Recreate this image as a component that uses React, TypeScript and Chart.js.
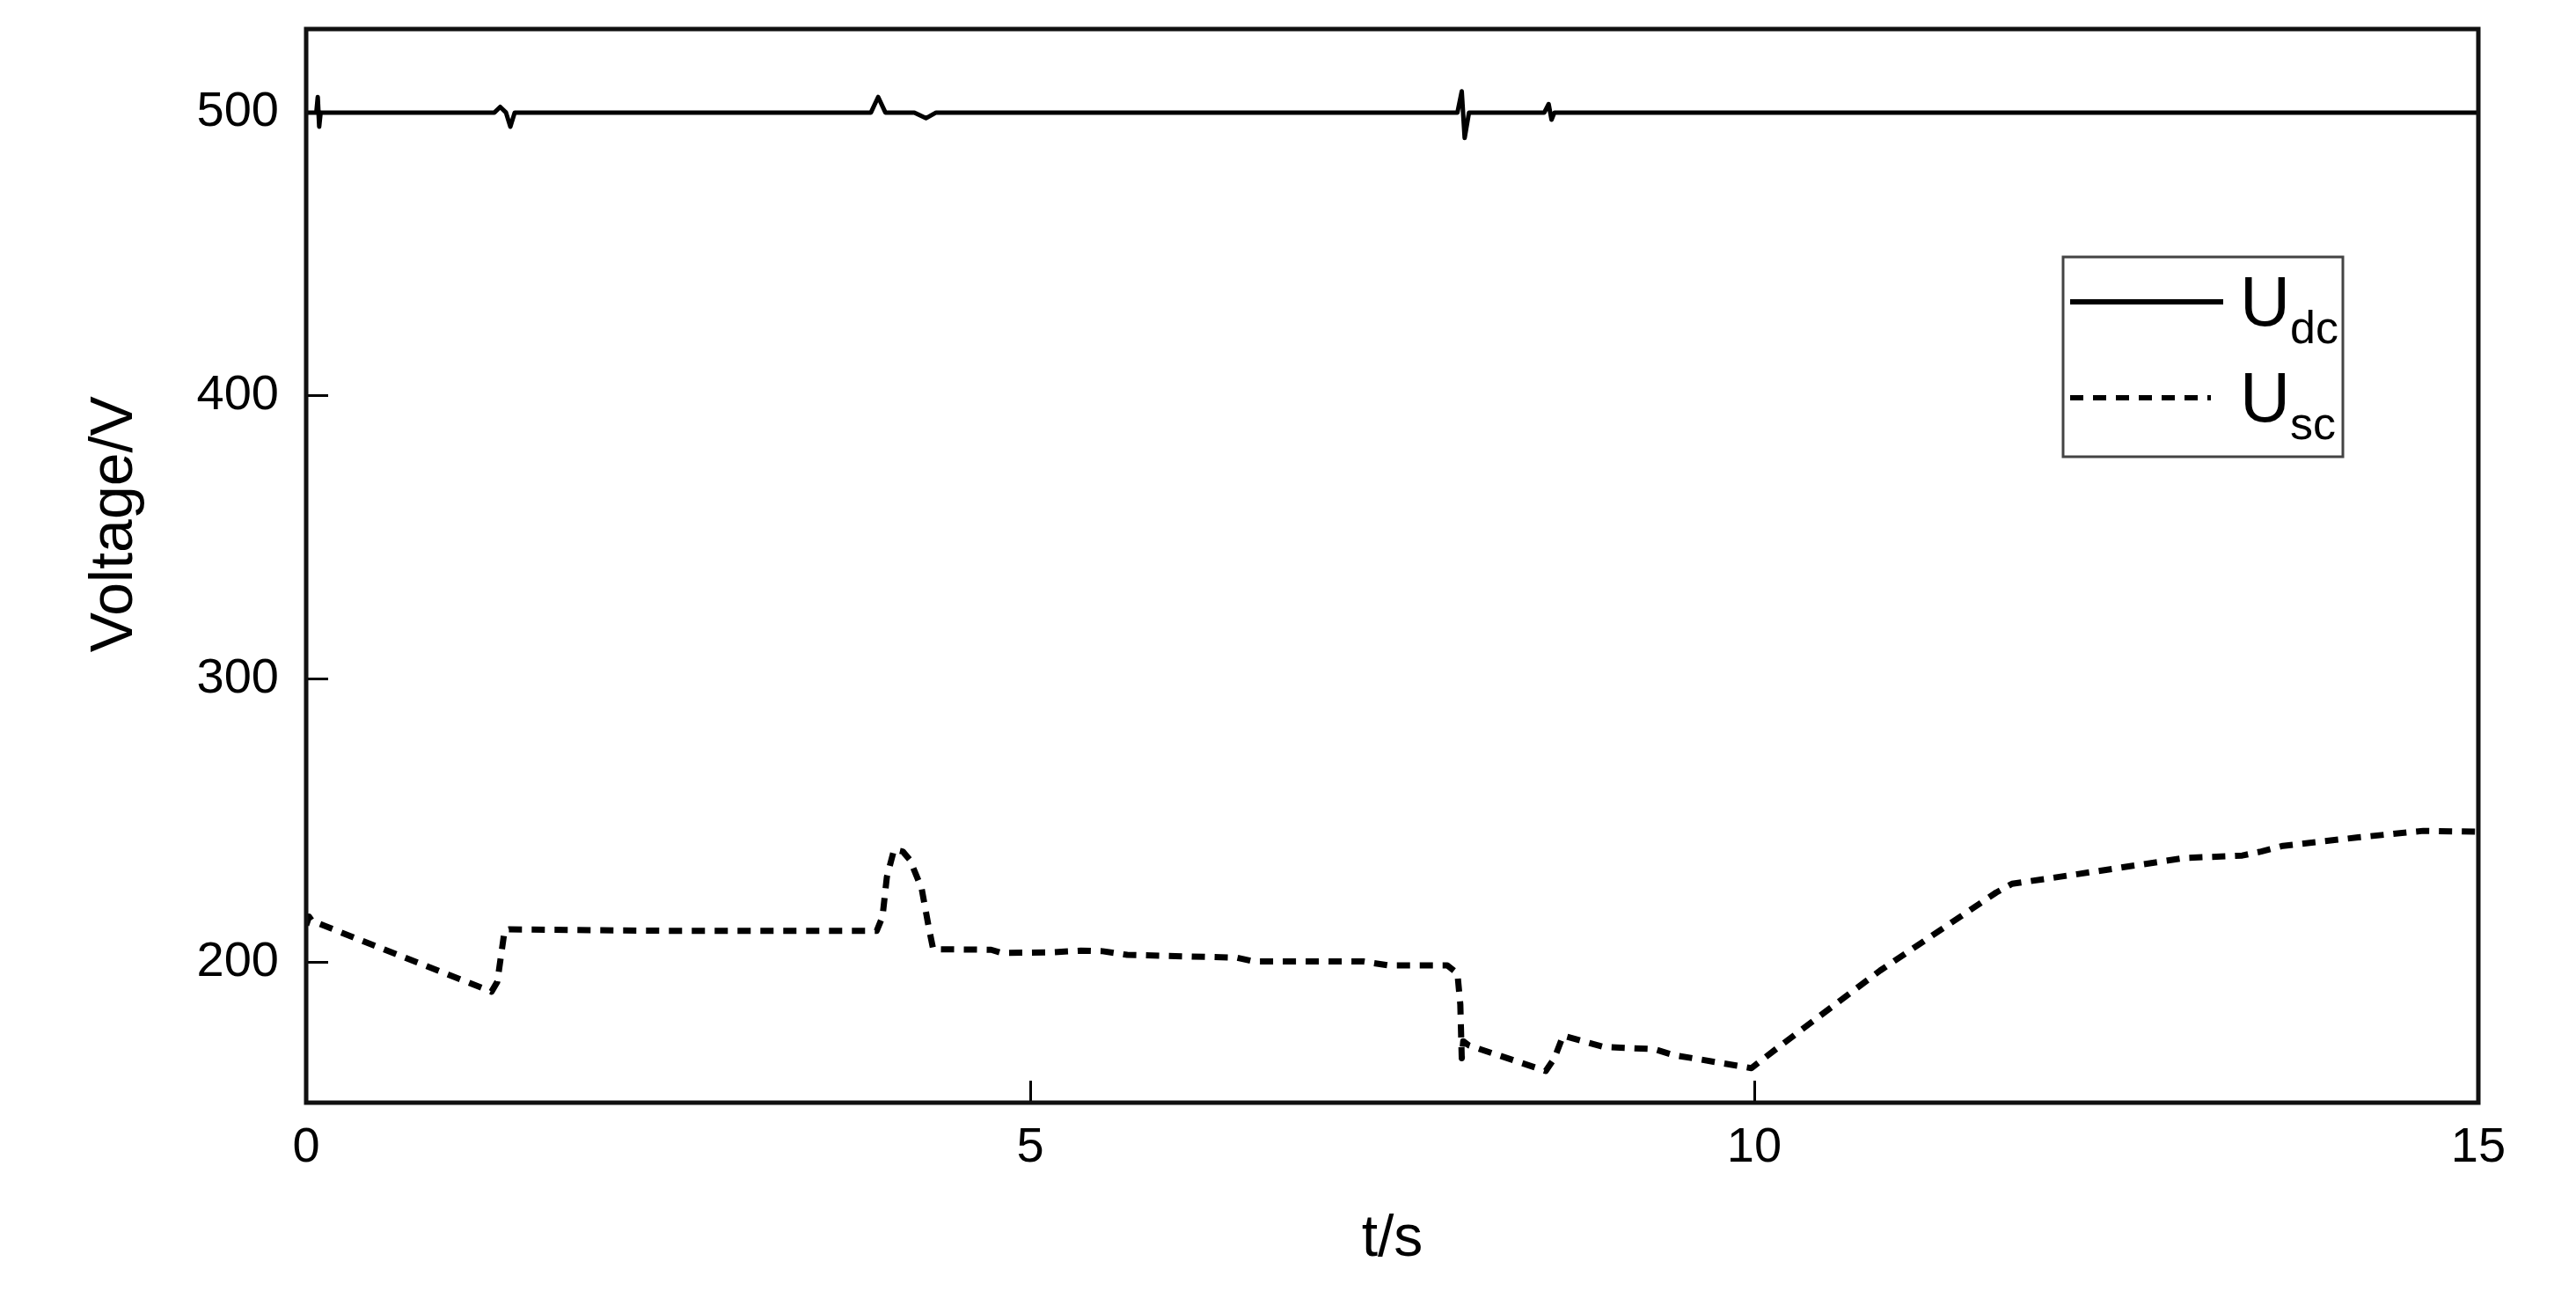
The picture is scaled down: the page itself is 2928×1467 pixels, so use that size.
import { useEffect, useRef } from 'react';
import Chart from 'chart.js/auto';

// time axis (s) and voltages (V)
const tDc = [0, 0.07, 0.08, 0.09, 0.1, 1.3, 1.34, 1.38, 1.41, 1.44, 3.9, 3.95, 4.0, 4.2, 4.28, 4.35, 7.95, 7.98, 8.0, 8.03, 8.55, 8.58, 8.6, 8.62, 15];
const uDc = [500, 500, 505.5, 495, 500, 500, 502, 500, 495, 500, 500, 505.5, 500, 500, 498, 500, 500, 507.5, 491, 500, 500, 503, 497.5, 500, 500];

const tSc = [0, 0.02, 0.04, 1.28, 1.32, 1.37, 1.4, 2.5, 3.94, 3.98, 4.01, 4.06, 4.12, 4.17, 4.25, 4.3, 4.33, 4.73, 4.8, 5.14, 5.35, 5.5, 5.67, 6.43, 6.54, 7.3, 7.47, 7.88, 7.95, 7.97, 7.98, 7.99, 8.03, 8.56, 8.62, 8.68, 8.79, 8.96, 9.31, 9.45, 9.6, 9.98, 10.19, 10.87, 11.67, 11.78, 12.23, 12.97, 13.37, 13.5, 13.65, 14.17, 14.62, 15];
const uSc = [213, 216, 214.5, 189.5, 193, 211, 211.5, 211, 211, 216, 230, 239.7, 239, 236, 226, 212, 204.5, 204.3, 203.2, 203.4, 204, 203.8, 202.5, 201.5, 200.2, 200.2, 198.8, 198.8, 196, 185, 166, 172, 170.5, 161.5, 166, 174, 172.4, 170, 169.2, 167, 165.8, 162.5, 170.8, 197, 224.5, 227.6, 231, 236.7, 237.6, 239, 241, 244, 246.3, 246];

const xTicks = [0, 5, 10, 15];
const yTicks = [200, 300, 400, 500];

const seriesMain = ['U', 'U'];
const seriesSub = ['dc', 'sc'];

const FONT = 'Arial, "Liberation Sans", sans-serif';

// closed box around the plot area
const framePlugin = {
  id: 'frame',
  afterDatasetsDraw(chart: any) {
    const { ctx, chartArea: a } = chart;
    ctx.save();
    ctx.strokeStyle = '#111';
    ctx.lineWidth = 5;
    ctx.strokeRect(a.left, a.top, a.right - a.left, a.bottom - a.top);
    ctx.restore();
  },
};

// legend with subscripts (built-in legend can't do those)
const subLegendPlugin = {
  id: 'subLegend',
  afterDraw(chart: any) {
    const { ctx, chartArea: a } = chart;
    const boxL = a.right - 472;
    const boxT = a.top + 259;
    const boxW = 318;
    const boxH = 227;
    ctx.save();
    ctx.fillStyle = '#fff';
    ctx.fillRect(boxL, boxT, boxW, boxH);
    ctx.strokeStyle = '#444';
    ctx.lineWidth = 3;
    ctx.strokeRect(boxL, boxT, boxW, boxH);
    const rows = [51, 160];
    const sampleLen = [174, 160];
    chart.data.datasets.forEach((ds: any, i: number) => {
      const y = boxT + rows[i];
      ctx.strokeStyle = ds.borderColor;
      ctx.lineWidth = 6;
      ctx.setLineDash(ds.borderDash || []);
      ctx.beginPath();
      ctx.moveTo(boxL + 8, y);
      ctx.lineTo(boxL + 8 + sampleLen[i], y);
      ctx.stroke();
      ctx.setLineDash([]);
      ctx.fillStyle = '#000';
      ctx.textBaseline = 'alphabetic';
      ctx.textAlign = 'left';
      ctx.font = `79px ${FONT}`;
      ctx.fillText(seriesMain[i], boxL + 201, y + 27);
      const w = ctx.measureText(seriesMain[i]).width;
      ctx.font = `52px ${FONT}`;
      ctx.fillText(seriesSub[i], boxL + 201 + w, y + 47);
    });
    ctx.restore();
  },
};

export default function App() {
  const canvasRef = useRef<HTMLCanvasElement>(null);

  useEffect(() => {
    document.body.style.margin = '0';
    if (!canvasRef.current) return;
    const chart = new Chart(canvasRef.current, {
      type: 'line',
      data: {
        datasets: [
          {
            label: seriesMain[0] + seriesSub[0],
            data: tDc.map((t, i) => ({ x: t, y: uDc[i] })),
            borderColor: '#000',
            borderWidth: 5,
            borderJoinStyle: 'round',
            pointRadius: 0,
            tension: 0,
          },
          {
            label: seriesMain[1] + seriesSub[1],
            data: tSc.map((t, i) => ({ x: t, y: uSc[i] })),
            borderColor: '#000',
            borderWidth: 7,
            borderDash: [15, 11],
            borderJoinStyle: 'round',
            pointRadius: 0,
            tension: 0,
          },
        ],
      },
      options: {
        animation: false,
        responsive: true,
        maintainAspectRatio: false,
        layout: { padding: { left: 0, top: 33, right: 111, bottom: 0 } },
        plugins: {
          legend: { display: false },
          tooltip: { enabled: false },
        },
        scales: {
          x: {
            type: 'linear',
            min: 0,
            max: 15,
            afterBuildTicks: (s: any) => {
              s.ticks = xTicks.map((v) => ({ value: v }));
            },
            afterFit: (s: any) => {
              s.height = 214;
              s.paddingLeft = 0;
              s.paddingRight = 0;
            },
            border: { display: false },
            grid: { drawOnChartArea: false, tickLength: -25, tickWidth: 3, color: '#000' },
            ticks: { color: '#000', padding: 43, maxRotation: 0, font: { family: FONT, size: 56 } },
            title: {
              display: true,
              text: 't/s',
              color: '#000',
              padding: { top: 0, bottom: 19 },
              font: { family: FONT, size: 66 },
            },
          },
          y: {
            type: 'linear',
            min: 150.3,
            max: 529.5,
            afterBuildTicks: (s: any) => {
              s.ticks = yTicks.map((v) => ({ value: v }));
            },
            afterFit: (s: any) => {
              s.width = 348;
              s.paddingTop = 0;
              s.paddingBottom = 0;
            },
            border: { display: false },
            grid: { drawOnChartArea: false, tickLength: -25, tickWidth: 3, color: '#000' },
            ticks: { color: '#000', padding: 56, font: { family: FONT, size: 56 } },
            title: {
              display: true,
              // leading spaces nudge the rotated title up, as in the original
              text: '     Voltage/V',
              color: '#000',
              padding: { top: 90, bottom: 0 },
              font: { family: FONT, size: 68 },
            },
          },
        },
      },
      plugins: [framePlugin, subLegendPlugin],
    });
    return () => chart.destroy();
  }, []);

  return (
    <div style={{ position: 'relative', width: '2928px', height: '1467px', background: '#fff' }}>
      <canvas ref={canvasRef} />
    </div>
  );
}
